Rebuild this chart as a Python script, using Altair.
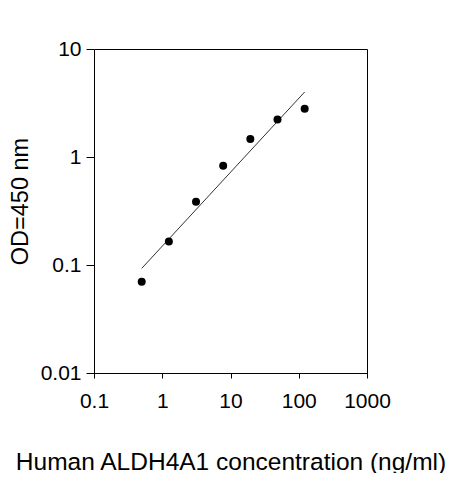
import altair as alt
import pandas as pd

# Standard curve data
conc = [0.5, 1.25, 3.125, 7.8125, 19.53, 48.83, 122.07]
od = [0.070, 0.165, 0.385, 0.828, 1.47, 2.23, 2.79]

# Fitted line end points
fit_x = [0.5, 122.07]
fit_y = [0.093, 4.0]

x_ticks = [0.1, 1, 10, 100, 1000]
y_ticks = [0.01, 0.1, 1, 10]

pts = pd.DataFrame({"conc": conc, "od": od})
fit = pd.DataFrame({"conc": fit_x, "od": fit_y})

FONT = "Liberation Sans"

xscale = alt.Scale(type="log", domain=[0.1, 1000], nice=False)
yscale = alt.Scale(type="log", domain=[0.01, 10], nice=False)

xaxis = alt.Axis(
    values=x_ticks, format="~g", grid=False,
    title="Human ALDH4A1 concentration (ng/ml)",
    titleFontSize=24.5, titleFont=FONT, titleFontWeight="normal", titleColor="#000",
    titleBaseline="alphabetic", titleY=96,
    labelFont=FONT, labelFontSize=21, labelColor="#000", labelPadding=12,
    tickSize=5, tickColor="#000", domainColor="#000", labelFlush=False,
)
yaxis = alt.Axis(
    values=y_ticks, format="~g", grid=False,
    title="OD=450 nm",
    titleFontSize=23.5, titleFont=FONT, titleFontWeight="normal", titleColor="#000",
    titleBaseline="alphabetic", titleX=-67, titleY=152, titleAngle=270,
    labelFont=FONT, labelFontSize=21, labelColor="#000", labelPadding=5,
    tickSize=8, tickColor="#000", domainColor="#000", labelFlush=False,
)

points = alt.Chart(pts).mark_circle(color="#000", opacity=1, size=64).encode(
    x=alt.X("conc:Q", scale=xscale, axis=xaxis),
    y=alt.Y("od:Q", scale=yscale, axis=yaxis),
)

line = alt.Chart(fit).mark_line(color="#333", strokeWidth=1).encode(
    x=alt.X("conc:Q", scale=xscale),
    y=alt.Y("od:Q", scale=yscale),
)

chart = (
    alt.layer(line, points)
    .properties(
        width=273, height=324,
        autosize=alt.AutoSizeParams(type="none"),
        padding={"left": 86, "top": 41, "right": 88, "bottom": 100},
        background="white",
    )
    .configure_view(stroke="#000", strokeWidth=1)
)

chart.save("out.html", embed_options={"renderer": "svg", "actions": False})
